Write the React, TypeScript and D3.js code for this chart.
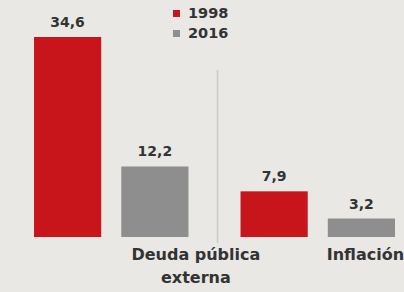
import React from "react";
import * as d3 from "d3";

const categories = ["Deuda pública externa", "Inflación"];
const categoryLines = [["Deuda pública", "externa"], ["Inflación"]];
const years = ["1998", "2016"];
const values1998 = [34.6, 7.9];
const values2016 = [12.2, 3.2];

const W = 404;
const H = 292;
const colors = { "1998": "#c8151c", "2016": "#8e8e8e" };
const labelShift = [41, 4];

const fmt = (v: number) => d3.format(".1f")(v).replace(".", ",");

const App = () => {
  const x0 = d3
    .scaleBand()
    .domain(categories)
    .range([34, 395])
    .paddingInner(0.252);

  const x1 = d3
    .scaleBand()
    .domain(years)
    .range([0, x0.bandwidth()])
    .paddingInner(0.23);

  const y = d3.scaleLinear().domain([0, 34.6]).range([237, 37]);

  const rows = categories.map((c, i) => ({
    cat: c,
    bars: [
      { year: "1998", value: values1998[i] },
      { year: "2016", value: values2016[i] },
    ],
  }));

  const sepX = (x0(categories[0])! + x0.bandwidth() + x0(categories[1])!) / 2 + 3;

  return (
    <svg
      width={W}
      height={H}
      style={{ position: "absolute", left: 0, top: 0 }}
      fontFamily="'DejaVu Sans', sans-serif"
      fontWeight="bold"
    >
      <rect width={W} height={H} fill="#e9e8e4" />
      <line x1={sepX} x2={sepX} y1={70} y2={243} stroke="#cbcbcb" strokeWidth={1.5} />
      {rows.map((r, i) => (
        <g key={r.cat} transform={`translate(${x0(r.cat)},0)`}>
          {r.bars.map(b => (
            <g key={b.year}>
              <rect
                x={x1(b.year)}
                y={y(b.value)}
                width={x1.bandwidth()}
                height={y(0) - y(b.value)}
                fill={colors[b.year]}
              />
              <text
                x={x1(b.year)! + x1.bandwidth() / 2}
                y={y(b.value) - 10}
                textAnchor="middle"
                fontSize={14}
                fill="#333"
              >
                {fmt(b.value)}
              </text>
            </g>
          ))}
          <text
            x={x1("2016")! + x1.bandwidth() / 2 + labelShift[i]}
            y={260}
            textAnchor="middle"
            fontSize={16}
            fill="#333"
          >
            {categoryLines[i].map((l, j) => (
              <tspan key={l} x={x1("2016")! + x1.bandwidth() / 2 + labelShift[i]} dy={j === 0 ? 0 : 23}>
                {l}
              </tspan>
            ))}
          </text>
        </g>
      ))}
      <g transform="translate(173,10)" fontSize={14.5} fill="#333">
        {years.map((yr, i) => (
          <g key={yr} transform={`translate(0,${i * 20})`}>
            <rect width={7} height={7} fill={colors[yr]} />
            <text x={15} y={8}>
              {yr}
            </text>
          </g>
        ))}
      </g>
    </svg>
  );
};

export default App;
